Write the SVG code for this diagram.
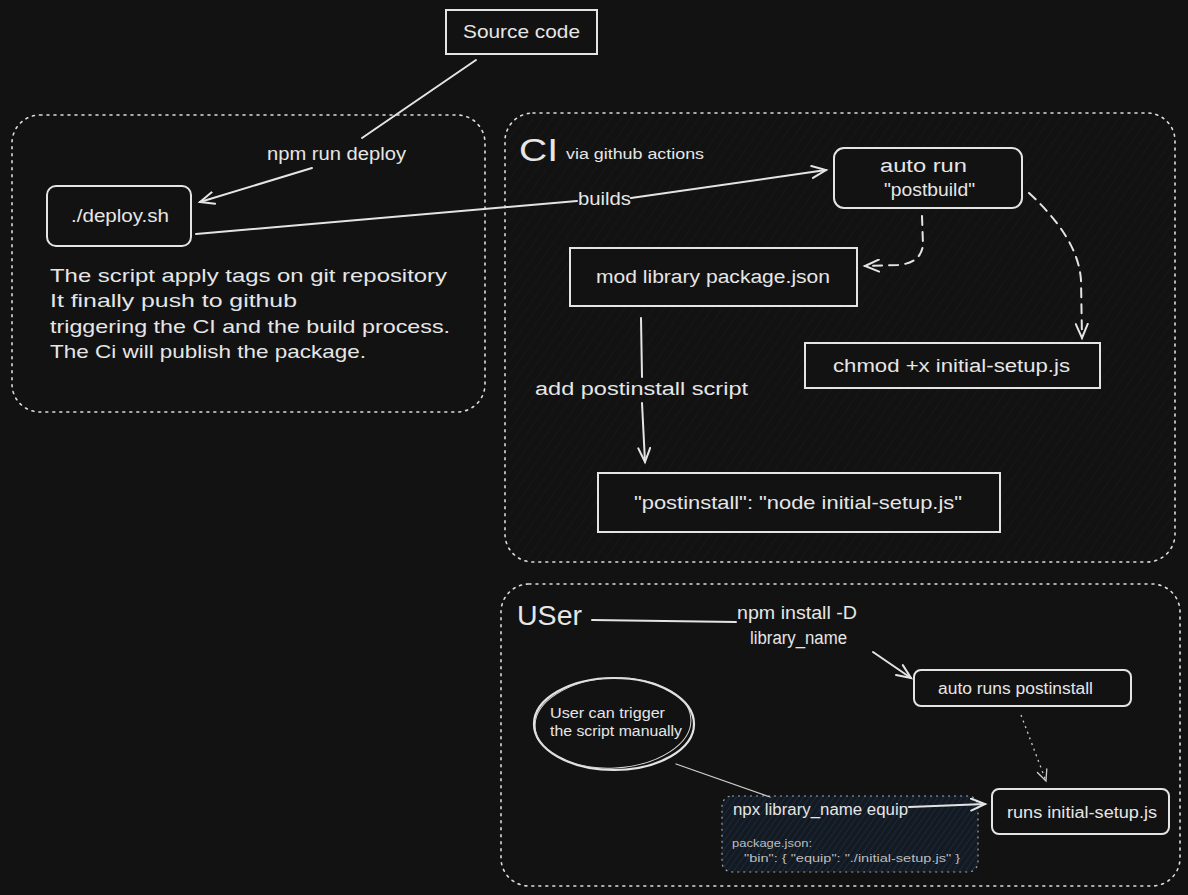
<svg xmlns="http://www.w3.org/2000/svg" width="1188" height="895" viewBox="0 0 1188 895">
  <defs>
    <style>
      .bg { fill: #121212; }
      .frame { fill: none; stroke: #dcdcdc; stroke-width: 1.6; stroke-dasharray: 2 5; stroke-linecap: round; }
      .box { fill: #121212; stroke: #e4e4e4; stroke-width: 2; }
      .edge { fill: none; stroke: #e4e4e4; stroke-width: 2; stroke-linecap: round; }
      .dash { fill: none; stroke: #e4e4e4; stroke-width: 2; stroke-dasharray: 9 7; stroke-linecap: round; }
      .thin { fill: none; stroke: #cfcfcf; stroke-width: 1.3; stroke-linecap: round; }
      .dots { fill: none; stroke: #cfcfcf; stroke-width: 1.3; stroke-dasharray: 2 4; }
      text { font-family: "Liberation Sans", "DejaVu Sans", sans-serif; fill: #e6e6e6; dominant-baseline: central; }
      .t18 { font-size: 19px; }
      .t17 { font-size: 18px; }
      .t15 { font-size: 16px; }
      .t13 { font-size: 14px; }
      .small { font-size: 11px; fill: #bdbdbd; }
    </style>
    <pattern id="hatch" width="8" height="8" patternUnits="userSpaceOnUse" patternTransform="rotate(35)">
      <line x1="0" y1="0" x2="0" y2="8" stroke="#1b1b1b" stroke-width="1"/>
    </pattern>
    <pattern id="hatchBlue" width="5" height="5" patternUnits="userSpaceOnUse" patternTransform="rotate(35)">
      <rect width="5" height="5" fill="#141a22"/>
      <line x1="0" y1="0" x2="0" y2="5" stroke="#1f3148" stroke-width="1.2"/>
    </pattern>
    <marker id="arrow" markerWidth="18" markerHeight="14" refX="15" refY="7" orient="auto" markerUnits="userSpaceOnUse">
      <path d="M1,1 L15,7 L1,13" fill="none" stroke="#e4e4e4" stroke-width="2" stroke-linecap="round"/>
    </marker>
    <marker id="arrowThin" markerWidth="14" markerHeight="12" refX="12" refY="6" orient="auto" markerUnits="userSpaceOnUse">
      <path d="M1,1 L12,6 L1,11" fill="none" stroke="#cfcfcf" stroke-width="1.3" stroke-linecap="round"/>
    </marker>
  </defs>

  <rect class="bg" x="0" y="0" width="1188" height="895"/>

  <!-- grouping frames -->
  <g id="frame-deploy">
    <rect class="frame" x="12" y="115" width="473" height="297" rx="28"/>
  </g>
  <g id="frame-ci">
    <rect x="505" y="113" width="670" height="449" rx="28" fill="url(#hatch)"/>
    <rect class="frame" x="505" y="113" width="670" height="449" rx="28"/>
    <text x="519" y="150" style="font-size:32px" textLength="39" lengthAdjust="spacingAndGlyphs">CI</text>
    <text x="566" y="154" class="t13" textLength="138" lengthAdjust="spacingAndGlyphs">via github actions</text>
  </g>
  <g id="frame-user">
    <rect class="frame" x="501" y="584" width="679" height="302" rx="28"/>
    <text x="517" y="616" style="font-size:27px" textLength="65" lengthAdjust="spacingAndGlyphs">USer</text>
  </g>

  <!-- nodes -->
  <g id="node-source">
    <rect class="box" x="446" y="10" width="151" height="44"/>
    <text x="463" y="31" class="t18" textLength="117" lengthAdjust="spacingAndGlyphs">Source code</text>
  </g>

  <g id="node-deploy">
    <rect class="box" x="47" y="186" width="144" height="60" rx="9"/>
    <text x="71" y="216" class="t17" textLength="98" lengthAdjust="spacingAndGlyphs">./deploy.sh</text>
  </g>

  <g id="note-deploy">
    <text class="t18" x="50" y="275" textLength="397" lengthAdjust="spacingAndGlyphs">The script apply tags on git repository</text>
    <text class="t18" x="50" y="300" textLength="247" lengthAdjust="spacingAndGlyphs">It finally push to github</text>
    <text class="t18" x="50" y="326" textLength="400" lengthAdjust="spacingAndGlyphs">triggering the CI and the build process.</text>
    <text class="t18" x="50" y="351" textLength="316" lengthAdjust="spacingAndGlyphs">The Ci will publish the package.</text>
  </g>

  <g id="node-autorun">
    <rect class="box" x="834" y="148" width="188" height="60" rx="10"/>
    <text x="880" y="166" class="t17" textLength="87" lengthAdjust="spacingAndGlyphs">auto run</text>
    <text x="884" y="190" class="t17" textLength="91" lengthAdjust="spacingAndGlyphs">"postbuild"</text>
  </g>

  <g id="node-modlib">
    <rect class="box" x="570" y="248" width="287" height="58"/>
    <text x="596" y="277" class="t17" textLength="234" lengthAdjust="spacingAndGlyphs">mod library package.json</text>
  </g>

  <g id="node-chmod">
    <rect class="box" x="805" y="343" width="295" height="45"/>
    <text x="833" y="366" class="t17" textLength="237" lengthAdjust="spacingAndGlyphs">chmod +x initial-setup.js</text>
  </g>

  <g id="node-postinstall">
    <rect class="box" x="598" y="473" width="402" height="59"/>
    <text x="634" y="502" class="t18" textLength="328" lengthAdjust="spacingAndGlyphs">"postinstall": "node initial-setup.js"</text>
  </g>

  <g id="node-autoruns">
    <rect class="box" x="914" y="670" width="217" height="36" rx="7"/>
    <text x="938" y="688" class="t15" textLength="155" lengthAdjust="spacingAndGlyphs">auto runs postinstall</text>
  </g>

  <g id="node-note-user">
    <ellipse cx="614" cy="724" rx="80" ry="46" fill="none" stroke="#e4e4e4" stroke-width="2.2"/>
    <ellipse cx="613" cy="723" rx="78" ry="45" fill="none" stroke="#d8d8d8" stroke-width="1" transform="rotate(-3 613 723)"/>
    <text x="550" y="713" class="t13" textLength="115" lengthAdjust="spacingAndGlyphs">User can trigger</text>
    <text x="550" y="731" class="t13" textLength="132" lengthAdjust="spacingAndGlyphs">the script manually</text>
  </g>

  <g id="node-npx">
    <rect x="722" y="796" width="256" height="76" rx="10" fill="url(#hatchBlue)" stroke="#9aa6b4" stroke-width="1.2" stroke-dasharray="2 4"/>
    <text x="733" y="809" class="t15" textLength="175" lengthAdjust="spacingAndGlyphs">npx library_name equip</text>
    <text x="732" y="843" class="small" textLength="80" lengthAdjust="spacingAndGlyphs">package.json:</text>
    <text x="744" y="858" class="small" textLength="216" lengthAdjust="spacingAndGlyphs">"bin": { "equip": "./initial-setup.js" }</text>
  </g>

  <g id="node-runs">
    <rect class="box" x="992" y="789" width="177" height="45" rx="7"/>
    <text x="1007" y="812" class="t15" textLength="150" lengthAdjust="spacingAndGlyphs">runs initial-setup.js</text>
  </g>

  <!-- connectors -->
  <g id="connectors">
    <!-- Source code -> deploy.sh -->
    <path class="edge" d="M476,60 L362,138"/>
    <path class="edge" d="M312,168 L200,202" marker-end="url(#arrow)"/>
    <text x="267" y="154" class="t17" textLength="139" lengthAdjust="spacingAndGlyphs">npm run deploy</text>

    <!-- deploy.sh -> auto run -->
    <path class="edge" d="M196,234 L577,201"/>
    <path class="edge" d="M631,198 L826,170" marker-end="url(#arrow)"/>
    <text x="578" y="199" class="t17" textLength="53" lengthAdjust="spacingAndGlyphs">builds</text>

    <!-- auto run -> mod library package.json -->
    <path class="dash" d="M922,216 L923,245 Q921,263 898,265 L865,266" marker-end="url(#arrow)"/>

    <!-- auto run -> chmod -->
    <path class="dash" d="M1029,193 Q1078,238 1081,280 L1082,338" marker-end="url(#arrow)"/>

    <!-- mod library -> postinstall entry -->
    <path class="edge" d="M641,318 L642,377"/>
    <path class="edge" d="M642,403 L645,462" marker-end="url(#arrow)"/>
    <text x="535" y="389" class="t17" textLength="213" lengthAdjust="spacingAndGlyphs">add postinstall script</text>

    <!-- User -> npm install -> auto runs postinstall -->
    <path class="edge" d="M592,620 L736,622"/>
    <text x="737" y="613" class="t17" textLength="120" lengthAdjust="spacingAndGlyphs">npm install -D</text>
    <text x="750" y="638" class="t17" textLength="97" lengthAdjust="spacingAndGlyphs">library_name</text>
    <path class="edge" d="M873,652 L911,678" marker-end="url(#arrow)"/>

    <!-- auto runs postinstall -> runs initial-setup.js -->
    <path class="dots" d="M1021,715 L1046,781" marker-end="url(#arrowThin)"/>

    <!-- note -> npx -->
    <path class="thin" d="M676,764 L770,797"/>

    <!-- npx -> runs initial-setup.js -->
    <path class="edge" d="M909,807 L985,804" marker-end="url(#arrow)"/>
  </g>
</svg>
